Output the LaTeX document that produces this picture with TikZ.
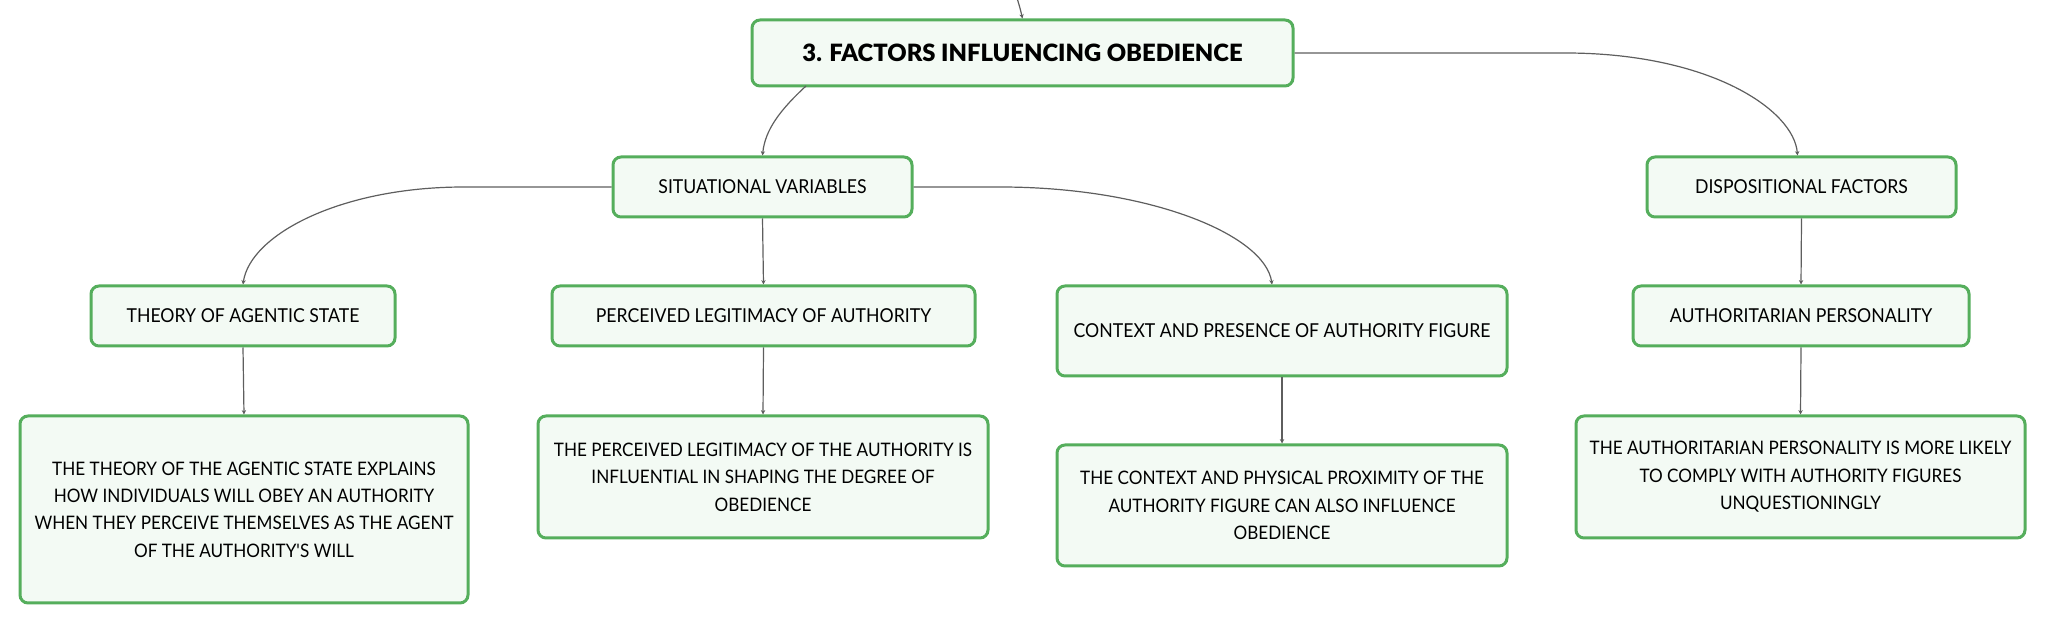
\documentclass[tikz,border=0pt]{standalone}
\usepackage{fontspec}
\setmainfont{Lato}[FakeStretch=0.92]
\newfontfamily\titlefont{Lato Black}
\usetikzlibrary{arrows.meta}
\definecolor{boxgreen}{HTML}{55AE5C}
\definecolor{boxfill}{HTML}{F3FAF4}
\definecolor{linkgray}{HTML}{5E5E5E}
\begin{document}
\begin{tikzpicture}[x=0.5pt,y=-0.5pt,
  box/.style={draw=boxgreen, line width=1.5pt, fill=boxfill, rounded corners=4pt,
    align=center, inner sep=0pt, font=\fontsize{9.6}{13.7}\selectfont},
  descbox/.style={box, font=\fontsize{9.3}{13.7}\selectfont},
  titlebox/.style={box, font=\fontsize{11.9}{14}\titlefont},
  link/.style={draw=linkgray, line width=0.6pt, -{Stealth[length=2.2pt,width=2.2pt]}}
]
\useasboundingbox (0,0) rectangle (2046,624);
% nodes
\node[titlebox, minimum width=270.5pt, minimum height=33pt] (top) at (1022.5,53) {3. FACTORS INFLUENCING OBEDIENCE};
\node[box, minimum width=149.5pt, minimum height=30pt] (sit) at (762.5,187) {SITUATIONAL VARIABLES};
\node[box, minimum width=154.5pt, minimum height=30pt] (disp) at (1801.5,187) {DISPOSITIONAL FACTORS};
\node[box, minimum width=152pt, minimum height=30pt] (theory) at (243,316) {THEORY OF AGENTIC STATE};
\node[box, minimum width=211.5pt, minimum height=30pt] (perc) at (763.5,316) {PERCEIVED LEGITIMACY OF AUTHORITY};
\node[box, minimum width=225pt, minimum height=45pt] (ctx) at (1282,331) {CONTEXT AND PRESENCE OF AUTHORITY FIGURE};
\node[box, minimum width=168pt, minimum height=30pt] (auth) at (1801,316) {AUTHORITARIAN PERSONALITY};
\node[descbox, minimum width=224pt, minimum height=93.5pt] (thdesc) at (244,509.5) {THE THEORY OF THE AGENTIC STATE EXPLAINS\\HOW INDIVIDUALS WILL OBEY AN AUTHORITY\\WHEN THEY PERCEIVE THEMSELVES AS THE AGENT\\OF THE AUTHORITY\textquotesingle S WILL};
\node[descbox, minimum width=225pt, minimum height=61pt] (pdesc) at (763,477) {THE PERCEIVED LEGITIMACY OF THE AUTHORITY IS\\INFLUENTIAL IN SHAPING THE DEGREE OF\\OBEDIENCE};
\node[descbox, minimum width=225pt, minimum height=60.5pt] (cdesc) at (1282,505.5) {THE CONTEXT AND PHYSICAL PROXIMITY OF THE\\AUTHORITY FIGURE CAN ALSO INFLUENCE\\OBEDIENCE};
\node[descbox, minimum width=224.5pt, minimum height=61pt] (adesc) at (1800.5,477) {THE AUTHORITARIAN PERSONALITY IS MORE LIKELY\\TO COMPLY WITH AUTHORITY FIGURES\\UNQUESTIONINGLY};
% helper coordinates
\coordinate (incoming) at (1017,-2);
\coordinate (topout) at (806,86);
\coordinate (sitleft) at (464,187);
\coordinate (sitright) at (1000,187);
\coordinate (topright) at (1565,53);
% connectors
\draw[link] (incoming) .. controls (1020,8) .. (top.north);
\draw[link] (topout) .. controls (780,110) and (765,130) .. (sit.north);
\draw[link] (top.east) -- (topright) .. controls (1710,53) and (1794,110) .. ([xshift=-2pt]disp.north);
\draw[link] (sit.west) -- (sitleft) .. controls (340,187) and (250,235) .. (theory.north);
\draw[link] (sit.east) -- (sitright) .. controls (1150,187) and (1265,235) .. ([xshift=-5pt]ctx.north);
\draw[link] (sit.south) -- (perc.north);
\draw[link] (theory.south) -- (thdesc.north);
\draw[link] (perc.south) -- (pdesc.north);
\draw[link] (ctx.south) -- (cdesc.north);
\draw[link] (disp.south) -- (auth.north);
\draw[link] (auth.south) -- (adesc.north);
\end{tikzpicture}
\end{document}
